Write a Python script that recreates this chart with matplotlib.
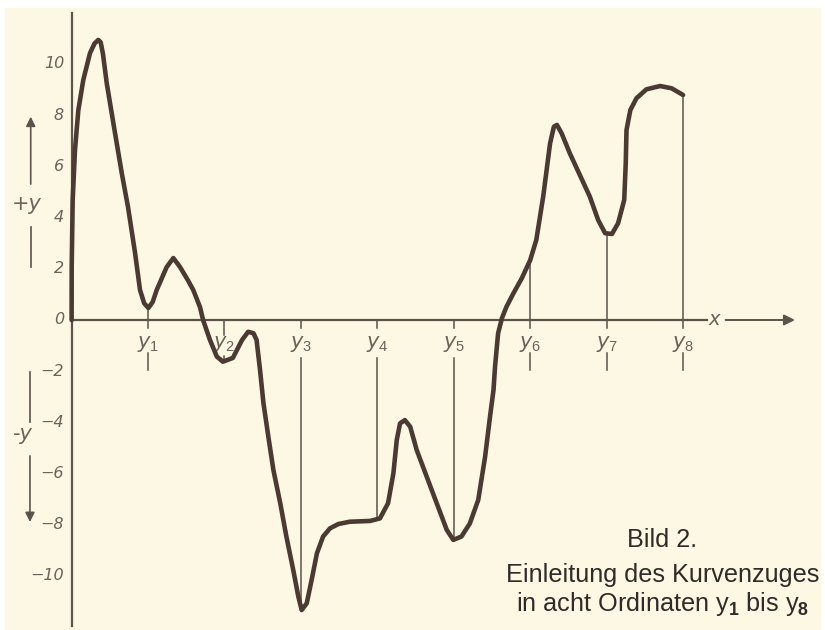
import numpy as np
import matplotlib.pyplot as plt
from matplotlib.patches import Rectangle

plt.rcParams['mathtext.fontset'] = 'custom'
plt.rcParams['mathtext.rm'] = 'Liberation Sans'
plt.rcParams['mathtext.bf'] = 'Liberation Sans:bold'
plt.rcParams['mathtext.it'] = 'DejaVu Sans:italic'

# curve (x in ordinate spacings, y in units)
curve_x = [0.0, 0.001, 0.014, 0.044, 0.088, 0.153, 0.241, 0.30, 0.349, 0.38,
           0.41, 0.459, 0.568, 0.656, 0.738, 0.830, 0.895, 0.95, 1.004, 1.06,
           1.113, 1.244, 1.331, 1.418, 1.52, 1.592, 1.680, 1.72, 1.81, 1.90,
           1.98, 2.11, 2.23, 2.31, 2.38, 2.42, 2.465, 2.51, 2.574, 2.64,
           2.73, 2.81, 2.90, 2.966, 3.01, 3.076, 3.14, 3.21, 3.29, 3.38,
           3.49, 3.64, 3.905, 4.034, 4.14, 4.21, 4.254, 4.297, 4.36, 4.43,
           4.515, 4.646, 4.777, 4.908, 4.994, 5.10, 5.21, 5.32, 5.41, 5.474,
           5.52, 5.54, 5.58, 5.63, 5.69, 5.78, 5.89, 6.00, 6.08, 6.17,
           6.26, 6.31, 6.35, 6.41, 6.52, 6.65, 6.78, 6.89, 6.98, 7.07,
           7.15, 7.23, 7.25, 7.26, 7.31, 7.39, 7.52, 7.70, 7.85, 8.0]
curve_y = [0.0, 2.08, 4.69, 6.64, 8.2, 9.38, 10.43, 10.8, 10.94, 10.85,
           10.4, 9.26, 7.3, 5.74, 4.41, 2.62, 1.17, 0.65, 0.47, 0.7,
           1.17, 2.07, 2.42, 2.07, 1.56, 1.17, 0.5, 0.0, -0.78, -1.43,
           -1.63, -1.48, -0.78, -0.46, -0.52, -0.78, -1.95, -3.25, -4.56, -5.86,
           -7.16, -8.46, -9.77, -10.8, -11.33, -11.07, -10.16, -9.11, -8.46, -8.14,
           -7.97, -7.88, -7.85, -7.75, -7.16, -5.99, -4.69, -4.04, -3.91, -4.17,
           -5.08, -6.12, -7.16, -8.2, -8.59, -8.46, -7.95, -7.03, -5.34, -3.78,
           -2.73, -1.82, -0.52, 0.07, 0.52, 1.04, 1.63, 2.34, 3.13, 4.82,
           6.9, 7.55, 7.62, 7.3, 6.5, 5.66, 4.82, 3.9, 3.39, 3.36,
           3.78, 4.69, 6.12, 7.42, 8.2, 8.66, 9.01, 9.14, 9.05, 8.79]

ord_x = [1, 2, 3, 4, 5, 6, 7, 8]
ord_y = [0.47, -1.63, -11.33, -7.81, -8.6, 2.34, 3.36, 8.79]
ord_labels = ['$y_1$', '$y_2$', '$y_3$', '$y_4$', '$y_5$', '$y_6$', '$y_7$', '$y_8$']

ytick_vals = [10, 8, 6, 4, 2, 0, -2, -4, -6, -8, -10]

paper = '#fdf8e4'
ink = '#4b3a31'
axis_c = '#5d524a'
text_c = '#6d625a'

fig = plt.figure(figsize=(8.25, 6.3), dpi=100, facecolor='white')
fig.patches.append(Rectangle((5 / 825, 0), 815 / 825, 622 / 630,
                             transform=fig.transFigure, color=paper, zorder=-10))
ax = fig.add_axes([0, 0, 1, 1])
ax.patch.set_alpha(0)
ax.set_xlim(-0.937, 9.857)
ax.set_ylim(-12.11, 12.5)
ax.axis('off')

# axes
ax.plot([0, 0], [11.99, -11.95], color=axis_c, lw=1.6)
ax.plot([0, 8.31], [0, 0], color=axis_c, lw=1.6)
ax.text(8.41, 0, 'x', fontsize=14, style='italic', color=text_c,
        ha='center', va='center')
ax.annotate('', xy=(9.5, 0), xytext=(8.52, 0),
            arrowprops=dict(arrowstyle='-|>', color=axis_c, lw=1.4,
                            mutation_scale=16))

# +y / -y arrows
ax.plot([-0.535, -0.535], [2.07, 3.63], color=axis_c, lw=1.2)
ax.annotate('', xy=(-0.535, 8.05), xytext=(-0.535, 5.2),
            arrowprops=dict(arrowstyle='-|>', color=axis_c, lw=1.2,
                            mutation_scale=14))
ax.text(-0.59, 4.55, '+y', fontsize=15, style='italic', color=text_c,
        ha='center', va='center')
ax.plot([-0.545, -0.545], [-2.03, -3.98], color=axis_c, lw=1.2)
ax.annotate('', xy=(-0.545, -8.0), xytext=(-0.545, -5.2),
            arrowprops=dict(arrowstyle='-|>', color=axis_c, lw=1.2,
                            mutation_scale=14))
ax.text(-0.65, -4.45, '-y', fontsize=15, style='italic', color=text_c,
        ha='center', va='center')

# y tick labels
for v in ytick_vals:
    ax.text(-0.1, v, str(v).replace('-', '\u2212'), fontsize=11.5, style='italic',
            color=text_c, ha='right', va='center')

# ordinates
for xv, yv, lab in zip(ord_x, ord_y, ord_labels):
    ax.text(xv, -0.95, lab, fontsize=15, color=text_c, ha='center', va='center')
    if yv > 0:
        ax.plot([xv, xv], [0, yv], color=axis_c, lw=1.1)
        ax.plot([xv, xv], [0, -0.31], color=axis_c, lw=1.1)
        ax.plot([xv, xv], [-1.3, -1.95], color=axis_c, lw=1.1)
    elif yv > -2:
        ax.plot([xv, xv], [0, -0.6], color=axis_c, lw=1.1)
        ax.plot([xv, xv], [-1.4, yv], color=axis_c, lw=1.1)
    else:
        ax.plot([xv, xv], [0, -0.31], color=axis_c, lw=1.1)
        ax.plot([xv, xv], [-1.5, yv], color=axis_c, lw=1.1)

# the curve
ax.plot(curve_x, curve_y, color=ink, lw=3.3, solid_joinstyle='round',
        solid_capstyle='round', zorder=5)

# caption
cap = dict(fontsize=18.2, family='Liberation Sans', color='#2e2b28', ha='center')
ax.text(7.73, -8.85, 'Bild 2.', va='baseline', **cap)
ax.text(7.73, -10.25, 'Einleitung des Kurvenzuges', va='baseline', **cap)
ax.text(7.73, -11.35, r'in acht Ordinaten y$_{\mathbf{1}}$ bis y$_{\mathbf{8}}$',
        va='baseline', **cap)

fig.savefig('out.png', dpi=100, facecolor=fig.get_facecolor())
